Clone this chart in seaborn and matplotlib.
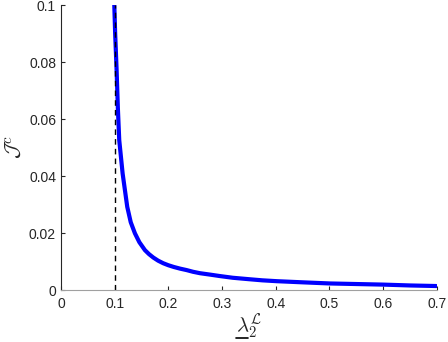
import numpy as np
import pandas as pd
import matplotlib
matplotlib.use("Agg")
import matplotlib.pyplot as plt
from matplotlib.lines import Line2D
import seaborn as sns

# values
lam = [0.0994, 0.1010, 0.1037, 0.1060, 0.1086, 0.1149, 0.1235, 0.1300, 0.1378,
       0.1460, 0.1564, 0.1640, 0.1720, 0.1810, 0.1905, 0.2000, 0.2100, 0.2220,
       0.2340, 0.2460, 0.2590, 0.2780, 0.2960, 0.3200, 0.3500, 0.3750, 0.4020,
       0.4500, 0.5010, 0.5500, 0.6000, 0.6500, 0.6990]
jc = [0.1000, 0.0900, 0.0772, 0.0640, 0.0526, 0.0409, 0.0292, 0.0238, 0.0199,
      0.0168, 0.0140, 0.0126, 0.0114, 0.0103, 0.0094, 0.0087, 0.0081, 0.0075,
      0.0070, 0.0064, 0.0059, 0.0054, 0.0049, 0.0043, 0.0038, 0.0034, 0.0031,
      0.0027, 0.0023, 0.0021, 0.0019, 0.0016, 0.0014]
lam_bound = 0.1

xticks = [0, 0.1, 0.2, 0.3, 0.4, 0.5, 0.6, 0.7]
xticklabels = ["0", "0.1", "0.2", "0.3", "0.4", "0.5", "0.6", "0.7"]
yticks = [0, 0.02, 0.04, 0.06, 0.08, 0.1]
yticklabels = ["0", "0.02", "0.04", "0.06", "0.08", "0.1"]

df = pd.DataFrame({"lam": lam, "jc": jc})

sns.set_style("ticks")
plt.rcParams["font.family"] = ["Liberation Sans", "DejaVu Sans"]
plt.rcParams["mathtext.fontset"] = "cm"

fig = plt.figure(figsize=(4.48, 3.42), dpi=100)
ax = fig.add_axes([0.136, 0.152, 0.839, 0.833])

sns.lineplot(data=df, x="lam", y="jc", color="#0000ff", linewidth=3, ax=ax)
ax.plot([lam_bound, lam_bound], [0, 0.1], color="black", linestyle="--",
        linewidth=1, dashes=(4, 3))

ax.set_xlim(0, 0.7)
ax.set_ylim(0, 0.1)
ax.set_xticks(xticks)
ax.set_xticklabels(xticklabels)
ax.set_yticks(yticks)
ax.set_yticklabels(yticklabels)
ax.tick_params(direction="in", length=3, labelsize=10, colors="#262626",
               width=0.8)
ax.tick_params(axis="x", pad=5)

for s in ["top", "right"]:
    ax.spines[s].set_visible(False)
ax.spines["left"].set_color("#262626")
ax.spines["bottom"].set_color("#a0a0a0")
ax.spines["left"].set_linewidth(0.8)
ax.spines["bottom"].set_linewidth(0.8)

ax.set_xlabel(r"$\lambda_2^{\mathcal{L}}$", fontsize=15, labelpad=0)
ax.set_ylabel(r"$\mathcal{J}^c$", fontsize=15, labelpad=4)

# mathtext has no \underline: draw the bar under the lambda by hand
fig.canvas.draw()
r = fig.canvas.get_renderer()
bb = ax.xaxis.label.get_window_extent(r)
tmp = fig.text(0, 0, r"$\lambda$", fontsize=15)
wl = tmp.get_window_extent(r).width
tmp.remove()
W, H = fig.bbox.width, fig.bbox.height
fig.add_artist(Line2D([(bb.x0 + 0.5) / W, (bb.x0 + wl - 1) / W],
                      [4.5 / H, 4.5 / H], color="black", linewidth=1.2))

fig.savefig("out.png", dpi=100)
